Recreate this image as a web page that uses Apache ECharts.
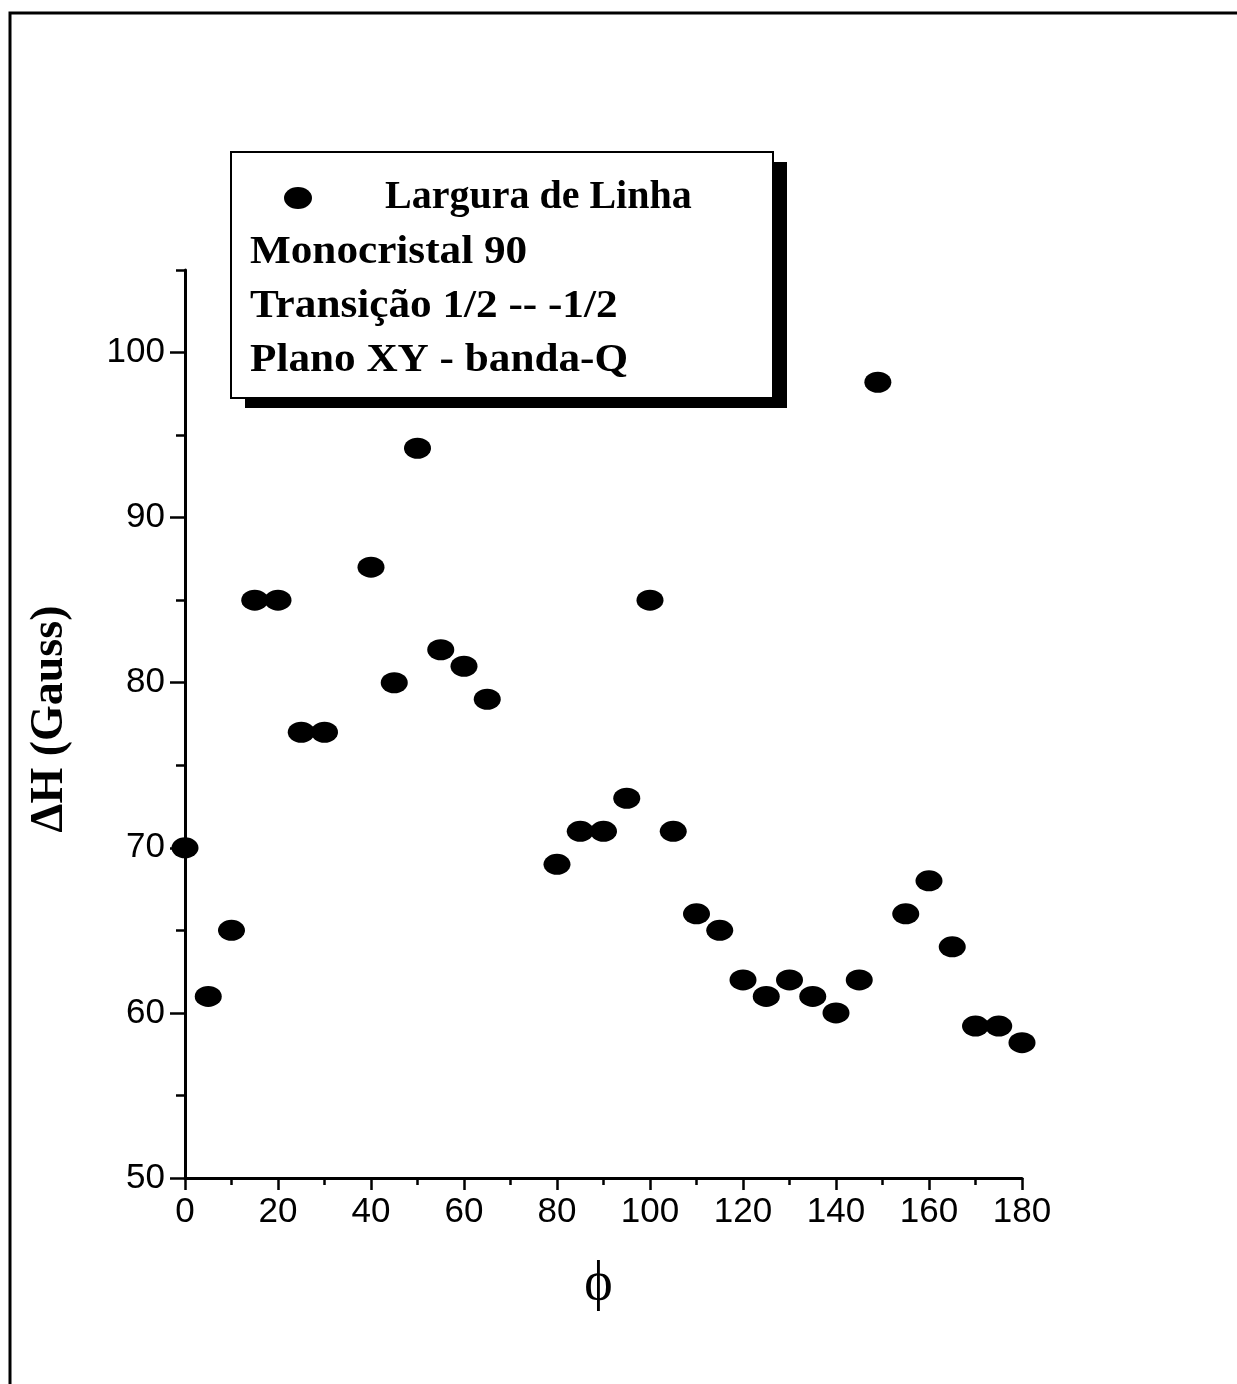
<!DOCTYPE html>
<html>
<head>
<meta charset="utf-8">
<script src="https://cdn.jsdelivr.net/npm/echarts@6/dist/echarts.min.js"></script>
<style>
html,body{margin:0;padding:0;background:#fff;}
#chart{width:1237px;height:1384px;}
</style>
</head>
<body>
<div id="chart"></div>
<script>
// ---- data ----
const phi = [0, 5, 10, 15, 20, 25, 30, 40, 45, 50, 55, 60, 65, 80, 85, 90, 95, 100, 105, 110, 115, 120, 125, 130, 135, 140, 145, 149, 155, 160, 165, 170, 175, 180];
const deltaH = [70, 61, 65, 85, 85, 77, 77, 87, 80, 94.2, 82, 81, 79, 69, 71, 71, 73, 85, 71, 66, 65, 62, 61, 62, 61, 60, 62, 98.2, 66, 68, 64, 59.2, 59.2, 58.2];
const yMajorTicks = [50, 60, 70, 80, 90, 100];
const yMinorTicks = [55, 65, 75, 85, 95, 105];
const seriesName = 'Largura de Linha';
const noteLines = ['Monocristal 90', 'Transição 1/2 -- -1/2', 'Plano XY - banda-Q'];
const xName = '\u03D5';
const yName = 'ΔH (Gauss)';

const points = phi.map((p, i) => [p, deltaH[i]]);
const ellipse = 'path://M0,10 A10,10 0 1,0 20,10 A10,10 0 1,0 0,10 Z';
const serif = '"Liberation Serif", "Times New Roman", "DejaVu Serif", serif';
const sans = '"Liberation Sans", Arial, sans-serif';

const chart = echarts.init(document.getElementById('chart'));
const option = {
  backgroundColor: '#fff',
  animation: false,
  grid: { left: 185, right: 215, top: 270, bottom: 206 },
  xAxis: {
    type: 'value', min: 0, max: 180, interval: 20,
    name: xName, nameLocation: 'middle', nameGap: 80,
    nameTextStyle: { fontFamily: serif, fontSize: 54, color: '#000', padding: [0, 10, 0, 0] },
    axisLine: { show: true, onZero: false, lineStyle: { color: '#000', width: 3 } },
    axisTick: { show: true, inside: false, length: 12, lineStyle: { color: '#000', width: 2.5 } },
    minorTick: { show: true, splitNumber: 2, length: 7, lineStyle: { color: '#000', width: 2.5 } },
    axisLabel: { fontFamily: sans, fontSize: 35, color: '#000', margin: 17 },
    splitLine: { show: false }, minorSplitLine: { show: false }
  },
  yAxis: [{
    type: 'value', min: 50, max: 105, interval: 10, position: 'left',
    name: yName, nameLocation: 'middle', nameGap: 112, nameRotate: 90,
    nameTextStyle: { fontFamily: serif, fontSize: 46, fontWeight: 'bold', color: '#000', padding: [0, 0, 0, 10] },
    axisLine: { show: true, onZero: false, lineStyle: { color: '#000', width: 3 } },
    axisTick: { show: true, inside: false, length: 15, customValues: yMajorTicks, lineStyle: { color: '#000', width: 2.5 } },
    axisLabel: { fontFamily: sans, fontSize: 35, color: '#000', margin: 20, customValues: yMajorTicks },
    splitLine: { show: false }
  }, {
    type: 'value', min: 50, max: 105, interval: 5, position: 'left',
    axisLine: { show: false },
    axisTick: { show: true, inside: false, length: 9, customValues: yMinorTicks, lineStyle: { color: '#000', width: 2.5 } },
    axisLabel: { show: false },
    splitLine: { show: false }
  }],
  legend: {
    show: true, left: 284, top: 178, padding: 0, z: 20,
    selectedMode: false, symbolKeepAspect: false,
    itemWidth: 28, itemHeight: 22,
    data: [{ name: seriesName, icon: ellipse }],
    textStyle: { fontFamily: serif, fontWeight: 'bold', fontSize: 40, color: '#000', lineHeight: 40, padding: [0, 0, 0, 68] }
  },
  graphic: [
    { type: 'rect', z: 1, shape: { x: 10, y: 13, width: 1400, height: 1500 }, style: { fill: 'none', stroke: '#000', lineWidth: 3 } },
    { type: 'rect', z: 5, shape: { x: 245, y: 162, width: 542, height: 246 }, style: { fill: '#000' } },
    { type: 'rect', z: 6, shape: { x: 231, y: 152, width: 542, height: 246 }, style: { fill: '#fff', stroke: '#000', lineWidth: 2 } },
  ].concat(noteLines.map((t, i) => ({
    type: 'text', z: 7, x: 250, y: 253 + i * 54, scaleX: 1.08,
    style: { text: t, font: 'bold 40px ' + serif, fill: '#000', verticalAlign: 'middle', align: 'left' }
  }))),
  series: [{
    name: seriesName, type: 'scatter', yAxisIndex: 0,
    symbol: ellipse, symbolSize: [27, 21], symbolKeepAspect: false,
    itemStyle: { color: '#000', opacity: 1 },
    z: 10,
    data: points
  }]
};
chart.setOption(option);
</script>
</body>
</html>
